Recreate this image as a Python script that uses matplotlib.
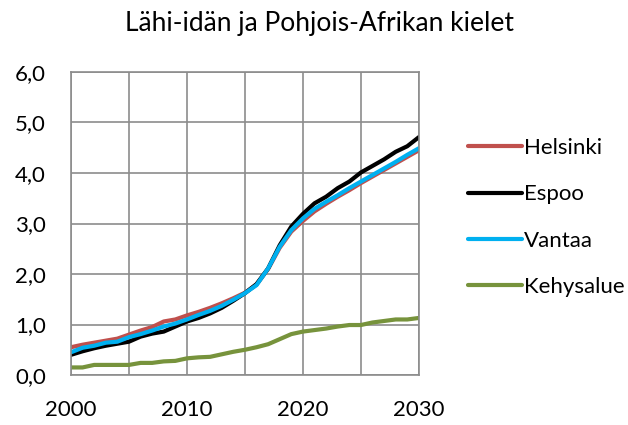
import numpy as np
import matplotlib.pyplot as plt
from matplotlib.ticker import FuncFormatter, MultipleLocator

plt.rcParams['font.family'] = ['Lato', 'DejaVu Sans']

years = np.arange(2000, 2031)

helsinki = [0.55, 0.60, 0.64, 0.68, 0.72, 0.80, 0.88, 0.95, 1.06, 1.10, 1.18,
            1.25, 1.33, 1.42, 1.52, 1.63, 1.79, 2.10, 2.52, 2.84, 3.05,
            3.24, 3.39, 3.53, 3.66, 3.80, 3.93, 4.06, 4.19, 4.32, 4.45]
espoo = [0.40, 0.47, 0.53, 0.58, 0.62, 0.66, 0.76, 0.82, 0.86, 0.96, 1.06,
         1.13, 1.22, 1.33, 1.47, 1.62, 1.80, 2.11, 2.57, 2.94, 3.19,
         3.40, 3.53, 3.70, 3.83, 4.01, 4.14, 4.27, 4.42, 4.53, 4.71]
vantaa = [0.45, 0.54, 0.58, 0.64, 0.66, 0.75, 0.81, 0.88, 0.96, 1.02, 1.10,
          1.19, 1.27, 1.37, 1.49, 1.62, 1.78, 2.11, 2.54, 2.87, 3.10,
          3.29, 3.43, 3.56, 3.70, 3.83, 3.96, 4.09, 4.22, 4.36, 4.49]
kehysalue = [0.15, 0.15, 0.20, 0.20, 0.20, 0.20, 0.24, 0.24, 0.27, 0.28, 0.33,
             0.35, 0.36, 0.41, 0.46, 0.50, 0.55, 0.61, 0.71, 0.81, 0.86,
             0.89, 0.92, 0.96, 0.99, 0.99, 1.04, 1.07, 1.10, 1.10, 1.13]

series = [("Helsinki", helsinki, "#C0504D"),
          ("Espoo", espoo, "#000000"),
          ("Vantaa", vantaa, "#00B0F0"),
          ("Kehysalue", kehysalue, "#77933C")]

fig = plt.figure(figsize=(6.28, 4.25), dpi=100)
ax = fig.add_axes([0.113, 0.1176, 0.554, 0.713])

for name, vals, col in series:
    ax.plot(years, vals, color=col, linewidth=3, label=name,
            solid_capstyle='round', solid_joinstyle='round')

ax.set_xlim(2000, 2030)
ax.set_ylim(0, 6)
ax.xaxis.set_major_locator(MultipleLocator(10))
ax.xaxis.set_minor_locator(MultipleLocator(5))
ax.yaxis.set_major_locator(MultipleLocator(1))
ax.yaxis.set_major_formatter(FuncFormatter(lambda v, p: f"{v:.1f}".replace('.', ',')))
ax.grid(True, which='both', color='#8c8c8c', linewidth=1.2)
ax.set_axisbelow(True)
for s in ax.spines.values():
    s.set_color('#8c8c8c')
    s.set_linewidth(1.2)
ax.tick_params(which='both', length=0, labelsize=16)
ax.tick_params(axis='y', pad=18)
ax.tick_params(axis='x', pad=18)

fig.suptitle("Lähi-idän ja Pohjois-Afrikan kielet", x=0.508, y=0.975,
             fontsize=19)

leg = ax.legend(loc='center left', bbox_to_anchor=(1.085, 0.52), frameon=False,
                fontsize=16, handlelength=2.4, handletextpad=0.1,
                labelspacing=1.18)

fig.savefig("out.png", dpi=100)
